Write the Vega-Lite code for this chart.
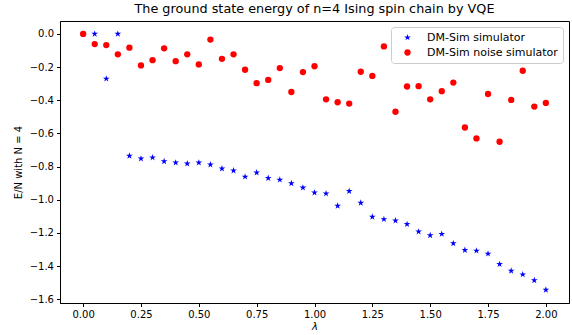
{
  "$schema": "https://vega.github.io/schema/vega-lite/v6.json",
  "width": 509,
  "height": 282,
  "autosize": {"type": "none"},
  "padding": {"left": 60, "top": 21, "right": 3, "bottom": 32},
  "background": "white",
  "title": {"text": "The ground state energy of n=4 Ising spin chain by VQE", "font": "DejaVu Sans", "fontSize": 12.8, "fontWeight": "normal", "color": "black", "offset": 5, "anchor": "middle"},
  "config": {
    "view": {"stroke": "black", "strokeWidth": 1},
    "font": "DejaVu Sans",
    "axis": {"grid": false, "domainColor": "black", "tickColor": "black", "labelColor": "black", "titleColor": "black", "labelFont": "DejaVu Sans", "titleFont": "DejaVu Sans", "labelFontSize": 10, "titleFontSize": 10, "titleFontWeight": "normal", "tickSize": 3.5, "labelPadding": 3}
  },
  "data": {"values": [
    {"lam": 0.0, "E": 0.0, "s": "DM-Sim simulator"},
    {"lam": 0.05, "E": 0.0, "s": "DM-Sim simulator"},
    {"lam": 0.1, "E": -0.27, "s": "DM-Sim simulator"},
    {"lam": 0.15, "E": 0.0, "s": "DM-Sim simulator"},
    {"lam": 0.2, "E": -0.735, "s": "DM-Sim simulator"},
    {"lam": 0.25, "E": -0.752, "s": "DM-Sim simulator"},
    {"lam": 0.3, "E": -0.745, "s": "DM-Sim simulator"},
    {"lam": 0.35, "E": -0.768, "s": "DM-Sim simulator"},
    {"lam": 0.4, "E": -0.776, "s": "DM-Sim simulator"},
    {"lam": 0.45, "E": -0.782, "s": "DM-Sim simulator"},
    {"lam": 0.5, "E": -0.776, "s": "DM-Sim simulator"},
    {"lam": 0.55, "E": -0.788, "s": "DM-Sim simulator"},
    {"lam": 0.6, "E": -0.812, "s": "DM-Sim simulator"},
    {"lam": 0.65, "E": -0.824, "s": "DM-Sim simulator"},
    {"lam": 0.7, "E": -0.861, "s": "DM-Sim simulator"},
    {"lam": 0.75, "E": -0.836, "s": "DM-Sim simulator"},
    {"lam": 0.8, "E": -0.869, "s": "DM-Sim simulator"},
    {"lam": 0.85, "E": -0.879, "s": "DM-Sim simulator"},
    {"lam": 0.9, "E": -0.901, "s": "DM-Sim simulator"},
    {"lam": 0.95, "E": -0.927, "s": "DM-Sim simulator"},
    {"lam": 1.0, "E": -0.957, "s": "DM-Sim simulator"},
    {"lam": 1.05, "E": -0.962, "s": "DM-Sim simulator"},
    {"lam": 1.1, "E": -1.036, "s": "DM-Sim simulator"},
    {"lam": 1.15, "E": -0.947, "s": "DM-Sim simulator"},
    {"lam": 1.2, "E": -1.018, "s": "DM-Sim simulator"},
    {"lam": 1.25, "E": -1.103, "s": "DM-Sim simulator"},
    {"lam": 1.3, "E": -1.117, "s": "DM-Sim simulator"},
    {"lam": 1.35, "E": -1.125, "s": "DM-Sim simulator"},
    {"lam": 1.4, "E": -1.147, "s": "DM-Sim simulator"},
    {"lam": 1.45, "E": -1.192, "s": "DM-Sim simulator"},
    {"lam": 1.5, "E": -1.214, "s": "DM-Sim simulator"},
    {"lam": 1.55, "E": -1.206, "s": "DM-Sim simulator"},
    {"lam": 1.6, "E": -1.263, "s": "DM-Sim simulator"},
    {"lam": 1.65, "E": -1.303, "s": "DM-Sim simulator"},
    {"lam": 1.7, "E": -1.307, "s": "DM-Sim simulator"},
    {"lam": 1.75, "E": -1.325, "s": "DM-Sim simulator"},
    {"lam": 1.8, "E": -1.388, "s": "DM-Sim simulator"},
    {"lam": 1.85, "E": -1.428, "s": "DM-Sim simulator"},
    {"lam": 1.9, "E": -1.45, "s": "DM-Sim simulator"},
    {"lam": 1.95, "E": -1.485, "s": "DM-Sim simulator"},
    {"lam": 2.0, "E": -1.543, "s": "DM-Sim simulator"},
    {"lam": 0.0, "E": 0.0, "s": "DM-Sim noise simulator"},
    {"lam": 0.05, "E": -0.061, "s": "DM-Sim noise simulator"},
    {"lam": 0.1, "E": -0.067, "s": "DM-Sim noise simulator"},
    {"lam": 0.15, "E": -0.123, "s": "DM-Sim noise simulator"},
    {"lam": 0.2, "E": -0.083, "s": "DM-Sim noise simulator"},
    {"lam": 0.25, "E": -0.19, "s": "DM-Sim noise simulator"},
    {"lam": 0.3, "E": -0.158, "s": "DM-Sim noise simulator"},
    {"lam": 0.35, "E": -0.087, "s": "DM-Sim noise simulator"},
    {"lam": 0.4, "E": -0.164, "s": "DM-Sim noise simulator"},
    {"lam": 0.45, "E": -0.123, "s": "DM-Sim noise simulator"},
    {"lam": 0.5, "E": -0.184, "s": "DM-Sim noise simulator"},
    {"lam": 0.55, "E": -0.034, "s": "DM-Sim noise simulator"},
    {"lam": 0.6, "E": -0.15, "s": "DM-Sim noise simulator"},
    {"lam": 0.65, "E": -0.123, "s": "DM-Sim noise simulator"},
    {"lam": 0.7, "E": -0.216, "s": "DM-Sim noise simulator"},
    {"lam": 0.75, "E": -0.297, "s": "DM-Sim noise simulator"},
    {"lam": 0.8, "E": -0.277, "s": "DM-Sim noise simulator"},
    {"lam": 0.85, "E": -0.206, "s": "DM-Sim noise simulator"},
    {"lam": 0.9, "E": -0.35, "s": "DM-Sim noise simulator"},
    {"lam": 0.95, "E": -0.23, "s": "DM-Sim noise simulator"},
    {"lam": 1.0, "E": -0.195, "s": "DM-Sim noise simulator"},
    {"lam": 1.05, "E": -0.394, "s": "DM-Sim noise simulator"},
    {"lam": 1.1, "E": -0.412, "s": "DM-Sim noise simulator"},
    {"lam": 1.15, "E": -0.42, "s": "DM-Sim noise simulator"},
    {"lam": 1.2, "E": -0.228, "s": "DM-Sim noise simulator"},
    {"lam": 1.25, "E": -0.253, "s": "DM-Sim noise simulator"},
    {"lam": 1.3, "E": -0.075, "s": "DM-Sim noise simulator"},
    {"lam": 1.35, "E": -0.469, "s": "DM-Sim noise simulator"},
    {"lam": 1.4, "E": -0.317, "s": "DM-Sim noise simulator"},
    {"lam": 1.45, "E": -0.315, "s": "DM-Sim noise simulator"},
    {"lam": 1.5, "E": -0.394, "s": "DM-Sim noise simulator"},
    {"lam": 1.55, "E": -0.345, "s": "DM-Sim noise simulator"},
    {"lam": 1.6, "E": -0.293, "s": "DM-Sim noise simulator"},
    {"lam": 1.65, "E": -0.564, "s": "DM-Sim noise simulator"},
    {"lam": 1.7, "E": -0.63, "s": "DM-Sim noise simulator"},
    {"lam": 1.75, "E": -0.362, "s": "DM-Sim noise simulator"},
    {"lam": 1.8, "E": -0.65, "s": "DM-Sim noise simulator"},
    {"lam": 1.85, "E": -0.398, "s": "DM-Sim noise simulator"},
    {"lam": 1.9, "E": -0.222, "s": "DM-Sim noise simulator"},
    {"lam": 1.95, "E": -0.438, "s": "DM-Sim noise simulator"},
    {"lam": 2.0, "E": -0.416, "s": "DM-Sim noise simulator"}
  ]},
  "mark": {"type": "point", "filled": true, "opacity": 1},
  "encoding": {
    "x": {"field": "lam", "type": "quantitative", "scale": {"domain": [-0.1, 2.1], "nice": false, "zero": false},
      "axis": {"values": [0, 0.25, 0.5, 0.75, 1.0, 1.25, 1.5, 1.75, 2.0], "format": ".2f", "title": "λ", "titleFontStyle": "italic", "titlePadding": 2}},
    "y": {"field": "E", "type": "quantitative", "scale": {"domain": [-1.622, 0.078], "nice": false, "zero": false},
      "axis": {"values": [0, -0.2, -0.4, -0.6, -0.8, -1.0, -1.2, -1.4, -1.6], "format": ".1f", "title": "E/N with N = 4", "titlePadding": 6}},
    "color": {"field": "s", "type": "nominal", "scale": {"domain": ["DM-Sim simulator", "DM-Sim noise simulator"], "range": ["#0000ff", "#ff0000"]},
      "legend": {"title": null, "orient": "top-right", "offset": 6, "labelFontSize": 11, "labelFont": "DejaVu Sans", "labelColor": "black", "strokeColor": "#cccccc", "fillColor": "white", "padding": 5, "cornerRadius": 3, "rowPadding": 3, "symbolSize": 45, "labelOffset": 14, "symbolOffset": 6}},
    "shape": {"field": "s", "type": "nominal", "scale": {"domain": ["DM-Sim simulator", "DM-Sim noise simulator"], "range": ["M0,-1L0.2245,-0.309L0.951,-0.309L0.363,0.118L0.588,0.809L0,0.382L-0.588,0.809L-0.363,0.118L-0.951,-0.309L-0.2245,-0.309Z", "circle"]}},
    "size": {"field": "s", "type": "nominal", "scale": {"domain": ["DM-Sim simulator", "DM-Sim noise simulator"], "range": [50, 40]}, "legend": null},
    "order": {"field": "s", "sort": "descending"}
  }
}
